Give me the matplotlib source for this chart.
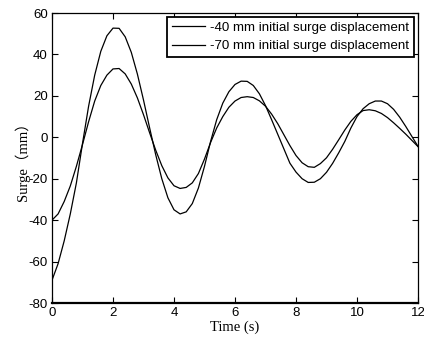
import matplotlib
matplotlib.use("Agg")
import matplotlib.pyplot as plt

plt.rcParams["axes.unicode_minus"] = False

time_s = [0.0, 0.2, 0.4, 0.6, 0.8, 1.0, 1.2, 1.4, 1.6, 1.8,
          2.0, 2.2, 2.4, 2.6, 2.8, 3.0, 3.2, 3.4, 3.6, 3.8,
          4.0, 4.2, 4.4, 4.6, 4.8, 5.0, 5.2, 5.4, 5.6, 5.8,
          6.0, 6.2, 6.4, 6.6, 6.8, 7.0, 7.2, 7.4, 7.6, 7.8,
          8.0, 8.2, 8.4, 8.6, 8.8, 9.0, 9.2, 9.4, 9.6, 9.8,
          10.0, 10.2, 10.4, 10.6, 10.8, 11.0, 11.2, 11.4, 11.6, 11.8,
          12.0]

surge_40 = [-40.0, -37.0, -31.0, -23.5, -14.0, -3.5, 7.5, 17.5, 25.0, 30.0,
            33.0, 33.2, 30.6, 25.7, 19.0, 10.9, 2.2, -6.2, -13.7, -19.6,
            -23.4, -24.7, -24.2, -22.0, -17.5, -10.5, -2.5, 4.5, 10.0, 14.5,
            17.5, 19.2, 19.6, 19.2, 17.6, 15.0, 11.2, 6.6, 1.3, -4.0,
            -8.8, -12.3, -14.2, -14.5, -12.7, -9.9, -5.8, -1.2, 3.5, 7.7,
            10.9, 12.9, 13.3, 12.8, 11.5, 9.5, 7.0, 4.3, 1.5, -1.5,
            -4.5]

surge_70 = [-69.0, -61.0, -50.0, -37.0, -22.0, -3.0, 15.0, 30.0, 41.5, 49.0,
            52.7, 52.6, 48.5, 41.0, 30.5, 18.0, 4.6, -8.4, -20.0, -29.2,
            -35.0, -37.0, -36.0, -32.0, -24.5, -14.0, -2.0, 8.5, 16.5, 22.0,
            25.5, 27.1, 27.0, 25.0, 21.0, 15.3, 8.5, 1.5, -5.5, -12.5,
            -16.8, -20.0, -21.8, -21.7, -20.0, -16.9, -12.6, -7.5, -2.0, 4.5,
            10.0, 13.8, 16.2, 17.5, 17.5, 16.2, 13.5, 9.7, 5.2, 0.4,
            -4.4]

series_labels = ["-40 mm initial surge displacement",
                 "-70 mm initial surge displacement"]
x_ticks = [0, 2, 4, 6, 8, 10, 12]
y_ticks = [-80, -60, -40, -20, 0, 20, 40, 60]

fig = plt.figure(figsize=(4.24, 3.40), dpi=100)
ax = fig.add_axes([52/424, 1 - 303/340, (418-52)/424, (303-13)/340])

ax.plot(time_s, surge_40, color="black", lw=0.9, label=series_labels[0])
ax.plot(time_s, surge_70, color="black", lw=0.9, label=series_labels[1])

ax.set_xlim(0, 12)
ax.set_ylim(-80, 60)
ax.set_xticks(x_ticks)
ax.set_yticks(y_ticks)
ax.tick_params(direction="in", top=True, right=True, length=4, width=0.8,
               labelsize=9.5, pad=3)
for lab in ax.get_xticklabels() + ax.get_yticklabels():
    lab.set_fontfamily("Liberation Sans")
for s in ax.spines.values():
    s.set_linewidth(0.9)
ax.spines["bottom"].set_linewidth(1.6)

ax.set_xlabel("Time (s)", family="Liberation Serif", fontsize=10.5, labelpad=1)
ax.set_ylabel("Surge（mm）", family=["Liberation Serif", "Noto Sans CJK SC"],
              fontsize=10.5, labelpad=-1)

leg = ax.legend(loc="upper right", prop={"family": "Liberation Sans", "size": 9.6},
                frameon=True, fancybox=False, borderaxespad=0.3,
                handlelength=2.5, handletextpad=0.4, borderpad=0.35,
                labelspacing=0.45)
leg.get_frame().set_edgecolor("black")
leg.get_frame().set_linewidth(1.3)
leg.get_frame().set_alpha(1)

fig.savefig("out.png", dpi=100)
